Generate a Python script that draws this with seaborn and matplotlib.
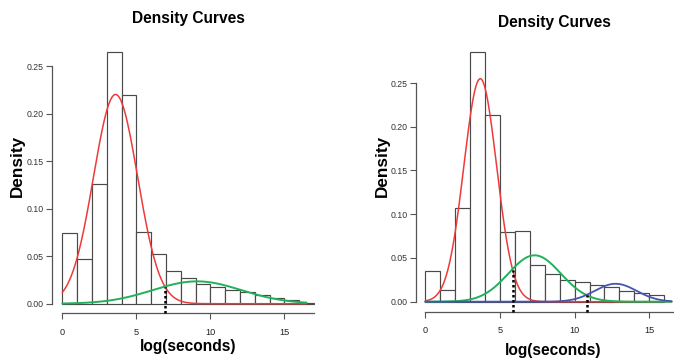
import numpy as np
import pandas as pd
import matplotlib
matplotlib.use("Agg")
import matplotlib.pyplot as plt
import seaborn as sns

# ---- histogram densities (bin width 1, starting at 0) ----
left_heights = [0.074, 0.0467, 0.126, 0.265, 0.2195, 0.075, 0.052, 0.034,
                0.0267, 0.0207, 0.0172, 0.014, 0.012, 0.0088, 0.0056,
                0.0042, 0.0006]
right_heights = [0.0354, 0.013, 0.1067, 0.2858, 0.213, 0.0793, 0.0812,
                 0.0415, 0.0313, 0.0252, 0.0221, 0.0187, 0.0168, 0.0126,
                 0.0095, 0.0072]

# ---- fitted mixture components: weight, mean, sd ----
left_weights = [0.823, 0.177]
left_means = [3.6, 9.1]
left_sds = [1.49, 3.0]
left_colors = ["#ee3a3a", "#1fb25a"]
left_widths = [1.1, 1.4]
left_cuts = [6.95]

right_weights = [0.703, 0.234, 0.072]
right_means = [3.68, 7.32, 12.75]
right_sds = [1.10, 1.76, 1.40]
right_colors = ["#ee3a3a", "#1fb25a", "#4656b0"]
right_widths = [1.1, 1.4, 1.3]
right_cuts = [5.85, 10.8]

xticks = [0, 5, 10, 15]
yticks = [0.00, 0.05, 0.10, 0.15, 0.20, 0.25]
ytick_labels = ["0.00", "0.05", "0.10", "0.15", "0.20", "0.25"]

sns.set_style("white")
plt.rcParams["font.family"] = ["Liberation Sans", "DejaVu Sans"]

W, H = 674, 359
fig = plt.figure(figsize=(W / 100, H / 100), dpi=100)


def px_axes(x0, y0, x1, y1):
    """Axes placed by pixel box (top-left origin)."""
    return fig.add_axes([x0 / W, 1 - y1 / H, (x1 - x0) / W, (y1 - y0) / H])


def npdf(x, m, s):
    return np.exp(-0.5 * ((x - m) / s) ** 2) / (s * np.sqrt(2 * np.pi))


def panel(ax, heights, weights, means, sds, colors, widths, cuts,
          yspine_x, xspine_y, xlim, ylim):
    n = len(heights)
    df = pd.DataFrame({"x": np.arange(n) + 0.5, "d": heights})
    sns.histplot(data=df, x="x", weights="d", binwidth=1, binrange=(0, n),
                 stat="count", ax=ax, color="white", edgecolor="#4a4a4a",
                 linewidth=0.85, alpha=1)
    grid = np.linspace(0, 16.5, 400)
    comps = []
    for w, m, s, c, lw in zip(weights, means, sds, colors, widths):
        y = w * npdf(grid, m, s)
        comps.append((w, m, s))
        sns.lineplot(x=grid, y=y, ax=ax, color=c, linewidth=lw)
    # dotted separators between neighbouring components
    for i, xc in enumerate(cuts):
        w, m, s = comps[i]
        yc = w * npdf(xc, m, s)
        ax.plot([xc, xc], [xspine_y, yc], color="black", linestyle=(0, (1, 1)),
                linewidth=1.8, clip_on=False, zorder=5)
    ax.set_xlim(*xlim)
    ax.set_ylim(*ylim)
    ax.set_xlabel("")
    ax.set_ylabel("")
    ax.set_xticks(xticks)
    ax.set_xticklabels([str(t) for t in xticks])
    ax.set_yticks(yticks)
    ax.set_yticklabels(ytick_labels, rotation=90, va="center")
    for side in ("top", "right"):
        ax.spines[side].set_visible(False)
    ax.spines["left"].set_position(("data", yspine_x))
    ax.spines["left"].set_bounds(0, 0.25)
    ax.spines["bottom"].set_position(("data", xspine_y))
    ax.spines["bottom"].set_bounds(0, 17)
    for side in ("left", "bottom"):
        ax.spines[side].set_color("#555555")
        ax.spines[side].set_linewidth(0.9)
    ax.tick_params(axis="x", direction="out", length=4, width=0.8,
                   color="#555555", pad=6.5, labelsize=6.6, bottom=True,
                   labelcolor="#222222")
    ax.tick_params(axis="y", direction="out", length=4, width=0.8,
                   color="#555555", pad=2, labelsize=6.3, left=True,
                   labelcolor="#333333")
    ax.grid(False)
    ax.set_facecolor("none")


# left panel: x px = 62.3 + 14.8*x ; y px = 303.7 - 949.6*y
axL = px_axes(45, 45, 320, 320)
panel(axL, left_heights, left_weights, left_means, left_sds, left_colors,
      left_widths, left_cuts, yspine_x=-0.676, xspine_y=-0.0099,
      xlim=((45 - 62.3) / 14.8, (320 - 62.3) / 14.8),
      ylim=((303.7 - 320) / 949.6, (303.7 - 45) / 949.6))

# right panel: x px = 425.3 + 14.93*x ; y px = 301.7 - 874.7*y
axR = px_axes(405, 45, 674, 320)
panel(axR, right_heights, right_weights, right_means, right_sds, right_colors,
      right_widths, right_cuts, yspine_x=-0.643, xspine_y=-0.0114,
      xlim=((405 - 425.3) / 14.93, (674 - 425.3) / 14.93),
      ylim=((301.7 - 320) / 874.7, (301.7 - 45) / 874.7))


# titles and axis labels
def ftext(x, y, s, **kw):
    fig.text(x / W, 1 - y / H, s, ha="center", va="center",
             fontweight="bold", color="black", **kw)


ftext(188, 19, "Density Curves", fontsize=11.2)
ftext(554, 22, "Density Curves", fontsize=11.2)
ftext(188, 347, "log(seconds)", fontsize=11.2)
ftext(553, 350, "log(seconds)", fontsize=11.2)
ftext(17, 166, "Density", fontsize=12.3, rotation=90)
ftext(382, 166, "Density", fontsize=12.3, rotation=90)

fig.savefig("out.png", dpi=100)
